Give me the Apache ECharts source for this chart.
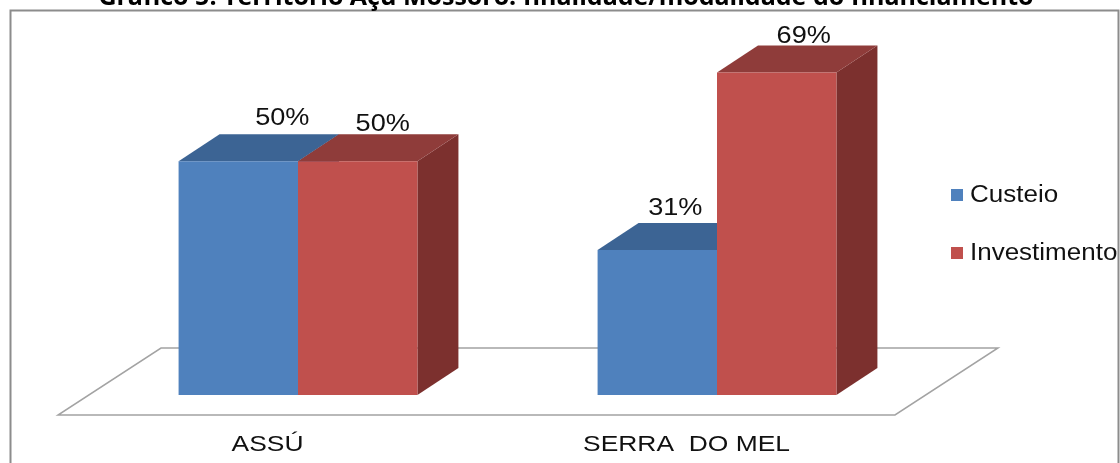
<!DOCTYPE html>
<html>
<head>
<meta charset="utf-8">
<title>Gráfico 5</title>
<style>
  html, body { margin: 0; padding: 0; background: #fff; }
  #chart { width: 1120px; height: 463px; }
</style>
<script src="https://cdn.jsdelivr.net/npm/echarts@6/dist/echarts.min.js"></script>
</head>
<body>
<div id="chart"></div>
<script>
const categories = ['ASSÚ', 'SERRA  DO MEL']
const custeio = [50, 31]
const investimento = [50, 69]
const titleText = 'Gráfico 5. Território Açu Mossoró: finalidade/modalidade do financiamento'

// deslocamento manual dos rótulos, em relação ao topo da barra
const custeioLabelShift = [[44, -43], [18, -42]]
const investimentoLabelShift = [[25, -37], [27, -36]]

const FONT = '"Liberation Sans", Arial, sans-serif'
const DEPTH_X = 41
const DEPTH_Y = -27

const blue = { front: '#4f81bd', top: '#3c6494', side: '#345a86' }
const red = { front: '#c0504d', top: '#8f3c3a', side: '#7c302e' }

// o original foi esticado na horizontal, por isso o scaleX
function stretchedText(text, x, y, size, stretch, align) {
  return {
    type: 'text',
    x: x,
    y: y,
    scaleX: stretch,
    style: {
      text: text,
      font: size + 'px ' + FONT,
      fill: '#111',
      textAlign: align || 'center',
      textVerticalAlign: 'middle'
    }
  }
}

function poly(points, fill) {
  return { type: 'polygon', shape: { points: points }, style: { fill: fill } }
}

// barra em falso 3D: side = -1 à esquerda do centro, 0 à direita
function barRenderer(values, colors, side, labelShift) {
  return function (params, api) {
    const i = params.dataIndex
    const center = api.coord([i, 0])
    const top = api.coord([i, values[i]])
    const w = api.size([1, 0])[0] * 0.285
    const x0 = center[0] + side * w
    const x1 = x0 + w
    const y0 = center[1]
    const y1 = top[1]
    const shift = labelShift[i]
    return {
      type: 'group',
      children: [
        poly([[x1, y1], [x1 + DEPTH_X, y1 + DEPTH_Y], [x1 + DEPTH_X, y0 + DEPTH_Y], [x1, y0]], colors.side),
        poly([[x0, y1], [x0 + DEPTH_X, y1 + DEPTH_Y], [x1 + DEPTH_X, y1 + DEPTH_Y], [x1, y1]], colors.top),
        poly([[x0, y1], [x1, y1], [x1, y0], [x0, y0]], colors.front),
        stretchedText(values[i] + '%', (x0 + x1) / 2 + shift[0], y1 + shift[1], 24, 1.13)
      ]
    }
  }
}

function renderFloor(params, api) {
  const left = params.coordSys.x
  const right = left + params.coordSys.width
  const base = api.coord([0, 0])[1]
  return {
    type: 'polygon',
    shape: {
      points: [
        [left + 72.5, base - 47],
        [right + 71.5, base - 47],
        [right - 31.5, base + 20],
        [left - 30.5, base + 20]
      ]
    },
    style: { fill: '#fff', stroke: '#a3a3a3', lineWidth: 1.5 }
  }
}

function renderCategory(params, api) {
  const p = api.coord([params.dataIndex, 0])
  return stretchedText(categories[params.dataIndex], p[0] - 30.5, p[1] + 50, 22, 1.2)
}

function legendItem(name, color, y) {
  return [
    { type: 'rect', shape: { x: 951, y: y - 6, width: 12, height: 12 }, style: { fill: color } },
    stretchedText(name, 970, y + 1, 23, 1.13, 'left')
  ]
}

const chart = echarts.init(document.getElementById('chart'))

chart.setOption({
  animation: false,
  backgroundColor: '#fff',
  title: {
    text: titleText,
    left: 561,
    textAlign: 'center',
    top: -20,
    textStyle: { fontFamily: '"Open Sans", sans-serif', fontWeight: 'bold', fontSize: 25, color: '#000' }
  },
  grid: { left: 88.5, right: 193.5, top: 21, bottom: 68 },
  xAxis: { type: 'category', data: categories, show: false },
  yAxis: { type: 'value', min: 0, max: 80, show: false },
  graphic: [
    {
      type: 'polyline',
      shape: { points: [[10.5, 463], [10.5, 10.5], [1118.5, 10.5], [1118.5, 463]] },
      style: { fill: 'none', stroke: '#8c8c8c', lineWidth: 2 }
    },
    ...legendItem('Custeio', blue.front, 195),
    ...legendItem('Investimento', red.front, 253)
  ],
  series: [
    { type: 'custom', name: 'Piso', data: [0], z: 1, silent: true, renderItem: renderFloor },
    { type: 'custom', name: 'Categorias', data: categories.map((c, i) => i), z: 1, silent: true, renderItem: renderCategory },
    { type: 'custom', name: 'Custeio', data: custeio.map((v, i) => [i, v]), z: 2, renderItem: barRenderer(custeio, blue, -1, custeioLabelShift) },
    { type: 'custom', name: 'Investimento', data: investimento.map((v, i) => [i, v]), z: 3, renderItem: barRenderer(investimento, red, 0, investimentoLabelShift) }
  ]
})
</script>
</body>
</html>
